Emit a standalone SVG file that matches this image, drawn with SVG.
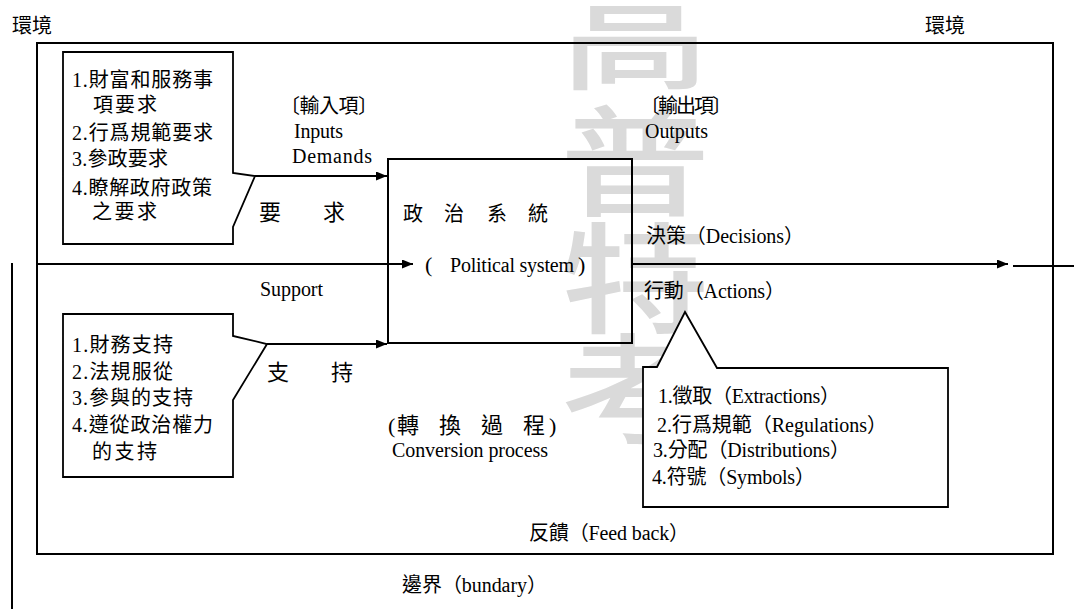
<svg xmlns="http://www.w3.org/2000/svg" width="1074" height="609" viewBox="0 0 1074 609">
<style>
text{font-family:"Liberation Serif","Noto Sans CJK TC",serif;font-size:20px;fill:#000}
.big{font-size:22px}
.wm{font-family:"Noto Sans CJK TC",sans-serif;font-weight:500;font-size:150px;fill:#dadada}
.box{fill:none;stroke:#000;stroke-width:2}
.call{fill:#fff;stroke:#000;stroke-width:1.8;stroke-linejoin:miter}
.con{fill:none;stroke:#000;stroke-width:2}
</style>
<defs>
<marker id="ah" markerUnits="userSpaceOnUse" markerWidth="11" markerHeight="9" refX="11" refY="4.5" orient="auto">
<path d="M0,0 L11,4.5 L0,9 Z" fill="#000"/>
</marker>
</defs>
<rect width="1074" height="609" fill="#fff"/>
<g id="watermark">
<g transform="translate(635,80) scale(1,0.8)"><text class="wm" text-anchor="middle">高</text></g>
<g transform="translate(635,207) scale(1,0.8)"><text class="wm" text-anchor="middle">普</text></g>
<g transform="translate(635,324) scale(1,0.8)"><text class="wm" text-anchor="middle">特</text></g>
<g transform="translate(635,435) scale(1,0.8)"><text class="wm" text-anchor="middle">考</text></g>
</g>
<g id="environment">
<rect class="box" x="37" y="43" width="1016" height="511"/>
<text x="12" y="33">環境</text>
<text x="925" y="33">環境</text>
</g>
<g id="connectors">
<line class="con" x1="255" y1="176" x2="387" y2="176" marker-end="url(#ah)"/>
<line class="con" x1="267" y1="344" x2="387" y2="344" marker-end="url(#ah)"/>
<line class="con" x1="37" y1="264" x2="413" y2="264" marker-end="url(#ah)"/>
<line class="con" x1="632" y1="264" x2="1008" y2="264" marker-end="url(#ah)"/>
<line class="con" x1="1013" y1="266" x2="1074" y2="266"/>
<line class="con" x1="12" y1="263" x2="12" y2="609" stroke-width="1.6"/>
</g>
<g id="political-system">
<rect class="box" x="388" y="159" width="244" height="184"/>
<text x="403" y="221">政</text>
<text x="444" y="221">治</text>
<text x="487" y="221">系</text>
<text x="528" y="221">統</text>
<text x="425" y="272" class="big">(</text>
<text x="450" y="272" textLength="124">Political system</text>
<text x="578" y="272" class="big">)</text>
</g>
<g id="demands-box">
<path class="call" d="M63,52 H233 V173 L255,176 L233,227 V244 H63 Z"/>
<text x="72" y="87" textLength="141">1.財富和服務事</text>
<text x="93" y="112" textLength="64">項要求</text>
<text x="72" y="140" textLength="141">2.行爲規範要求</text>
<text x="72" y="166" textLength="96">3.參政要求</text>
<text x="72" y="195" textLength="140">4.瞭解政府政策</text>
<text x="92" y="219" textLength="65">之要求</text>
</g>
<g id="support-box">
<path class="call" d="M63,314 H233 V336 L267,344 L233,400 V477 H63 Z"/>
<text x="72" y="352" textLength="101">1.財務支持</text>
<text x="72" y="379" textLength="101">2.法規服從</text>
<text x="72" y="405" textLength="121">3.參與的支持</text>
<text x="72" y="432" textLength="141">4.遵從政治權力</text>
<text x="92" y="459" textLength="65">的支持</text>
</g>
<g id="actions-box">
<path class="call" d="M643,367 H657 L685,312 L717,368 H948 V507 H643 Z"/>
<text x="658" y="403" textLength="182">1.徵取（Extractions）</text>
<text x="657" y="432" textLength="230">2.行爲規範（Regulations）</text>
<text x="653" y="457" textLength="197">3.分配（Distributions）</text>
<text x="652" y="484" textLength="163">4.符號（Symbols）</text>
</g>
<g id="labels">
<text x="280" y="113" textLength="98">〔輸入項〕</text>
<text x="294" y="138" textLength="49">Inputs</text>
<text x="292" y="163" textLength="80">Demands</text>
<text x="259" y="220" class="big">要</text>
<text x="323" y="220" class="big">求</text>
<text x="260" y="296" textLength="63">Support</text>
<text x="267" y="380" class="big">支</text>
<text x="331" y="380" class="big">持</text>
<text x="640" y="113" textLength="92">〔輸出項〕</text>
<text x="645" y="138" textLength="63">Outputs</text>
<text x="646" y="243" textLength="158">決策（Decisions）</text>
<text x="644" y="298" textLength="141">行動（Actions）</text>
<text x="388" y="433" class="big">(</text>
<text x="397" y="433" class="big">轉</text>
<text x="439" y="433" class="big">換</text>
<text x="481" y="433" class="big">過</text>
<text x="523" y="433" class="big">程</text>
<text x="549" y="433" class="big">)</text>
<text x="392" y="457" textLength="156">Conversion process</text>
<text x="529" y="540" textLength="160">反饋（Feed back）</text>
<text x="402" y="592" textLength="145">邊界（bundary）</text>
</g>
</svg>
